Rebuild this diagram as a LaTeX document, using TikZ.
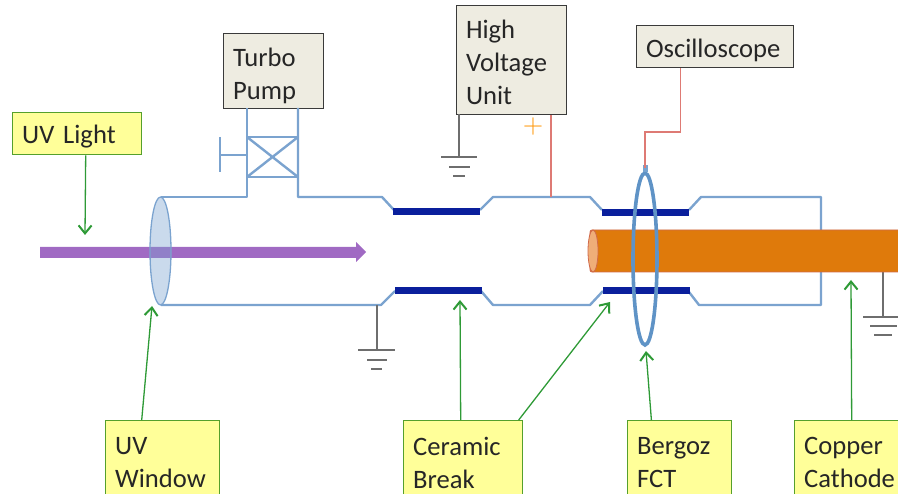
\documentclass[tikz,border=0pt]{standalone}
\usepackage{fontspec}
\setmainfont{Carlito}
\usetikzlibrary{arrows.meta,calc}
\definecolor{tube}{HTML}{7BA3CF}
\definecolor{ceramic}{HTML}{0A1F9C}
\definecolor{fct}{HTML}{5F93C6}
\definecolor{copper}{HTML}{DF7A0B}
\definecolor{copperend}{HTML}{EFAE78}
\definecolor{copperedge}{HTML}{D0694A}
\definecolor{labelfill}{HTML}{FFFF99}
\definecolor{labeledge}{HTML}{55A02C}
\definecolor{pointerc}{HTML}{2E9A36}
\definecolor{unitfill}{HTML}{EEECE1}
\definecolor{unitedge}{HTML}{3A3A3A}
\definecolor{gnd}{HTML}{6E6E6E}
\definecolor{wire}{HTML}{DE7A74}
\definecolor{beam}{HTML}{9B62C0}
\tikzset{
  basebox/.style={anchor=north west,align=left,font=\fontsize{26.6}{33}\selectfont,text=black!85,inner sep=0pt,inner xsep=9.5pt},
  labelbox/.style={basebox,draw=labeledge,fill=labelfill,line width=1.4pt},
  unitbox/.style={basebox,draw=unitedge,fill=unitfill,line width=1.1pt},
  tubeline/.style={draw=tube,line width=2.4pt,line join=round},
  ceramicbar/.style={draw=none,fill=ceramic},
  groundline/.style={draw=gnd,line width=1.4pt},
  wireline/.style={draw=wire,line width=1.3pt},
  pointer/.style={draw=pointerc,line width=1.3pt,-{Straight Barb[length=8pt,width=13pt,line width=2pt]}},
}
\begin{document}
\begin{tikzpicture}[x=1pt,y=-1pt]
\clip (0,0) rectangle (898,494);
% boxes
\node[labelbox,text width=110pt,minimum height=42pt] (uvlight) at (12,112) {\rule{0pt}{24pt}UV Light};
\node[unitbox,text width=81pt,minimum height=75pt] (turbo) at (223,33) {\rule{0pt}{28pt}Turbo\\Pump};
\node[unitbox,text width=91pt,minimum height=109pt] (hv) at (456,5) {\rule{0pt}{24pt}High\\Voltage\\Unit};
\node[unitbox,text width=138pt,minimum height=42pt] (scope) at (636,25) {\rule{0pt}{26pt}Oscilloscope};
\node[labelbox,text width=95pt,minimum height=84pt] (uvwin) at (105,420) {UV\\Window};
\node[labelbox,text width=100pt,minimum height=84pt] (ceramicl) at (403,420) {Ceramic\\Break};
\node[labelbox,text width=85pt,minimum height=84pt] (bergoz) at (627,420) {Bergoz\\FCT};
\node[labelbox,text width=91pt,minimum height=84pt] (copperl) at (794,420) {Copper\\Cathode};
% anchors in the apparatus
\coordinate (windowtip) at (152,306);
\coordinate (beamtip) at (85,235);
\coordinate (breaktip) at (460,300);
\coordinate (fctbreaktip) at (610,302);
\coordinate (fcttip) at (646,351);
\coordinate (cathodetip) at (851,280);
\coordinate (sensor) at (645,168);
\coordinate (hvtap) at (551,197);
% vacuum tube
\draw[tubeline] (161,197) -- (247,197) -- (247,108);
\draw[tubeline] (298,108) -- (298,197) -- (382,197) -- (394,210);
\draw[tubeline] (480,210) -- (493,197) -- (590,197) -- (602,210);
\draw[tubeline] (689,210) -- (701,197) -- (821,197) -- (821,305) -- (699,305) -- (689,292);
\draw[tubeline] (603,291) -- (590,305) -- (493,305) -- (481,291);
\draw[tubeline] (395,291) -- (381,305) -- (161,305);
% valve
\draw[tubeline] (247,137) rectangle (298,177);
\draw[tubeline] (247,137) -- (298,177) (247,177) -- (298,137);
\draw[tubeline] (247,155) -- (220,155) (220,137) -- (220,172);
% ceramic bars
\fill[ceramicbar] (393,208) rectangle (480,215);
\fill[ceramicbar] (395,287) rectangle (482,294);
\fill[ceramicbar] (602,209) rectangle (689,216);
\fill[ceramicbar] (603,287) rectangle (690,294);
% grounds
\draw[groundline] (459,114) -- (459,157) (441,157) -- (477,157) (449,167) -- (470,167) (453,176) -- (465,176);
\draw[groundline] (377,305) -- (377,350) (358,350) -- (395,350) (367,360) -- (387,360) (371,369) -- (382,369);
\draw[groundline] (883,272) -- (883,317) (863,317) -- (898,317) (870,326) -- (897,326) (874,335) -- (892,335);
% window and beam
\draw[draw=none,fill=beam,fill opacity=.95] (40,247) -- (356,247) -- (356,242) -- (366,252) -- (356,262) -- (356,258) -- (40,258) -- cycle;
\draw[draw=tube,fill=tube,fill opacity=.4,line width=1.3pt] (160.5,251) ellipse [x radius=10.5,y radius=54];
% cathode
\fill[copper,draw=copperedge,line width=.8pt,rounded corners=2pt] (590,230) rectangle (900,272);
\draw[draw=copperedge,fill=copperend,line width=.8pt] (593,251) ellipse [x radius=5,y radius=21];
% FCT
\draw[draw=fct,line width=3.6pt] (645,259) ellipse [x radius=12,y radius=86];
\fill[fct!85] (642.5,165) rectangle (648,172);
% wires
\draw[wireline] ([xshift=-34.5pt]scope.south) |- (645,132) -- (sensor);
\draw[wireline] (hv.south -| hvtap) -- (hvtap);
\node[text=orange!85!yellow,font=\fontsize{28}{28}\selectfont\sffamily,inner sep=0pt] (plus) at (533,127) {+};
% pointers
\draw[pointer] ([xshift=8.5pt]uvlight.south) -- (beamtip);
\draw[pointer] ([xshift=-21pt]uvwin.north) -- (windowtip);
\draw[pointer] ([xshift=-2.5pt]ceramicl.north) -- (breaktip);
\draw[pointer] ([xshift=55.5pt]ceramicl.north) -- (fctbreaktip);
\draw[pointer] ([xshift=-81pt]bergoz.north east) -- (fcttip);
\draw[pointer] ([xshift=2pt]copperl.north) -- (cathodetip);
\end{tikzpicture}
\end{document}
